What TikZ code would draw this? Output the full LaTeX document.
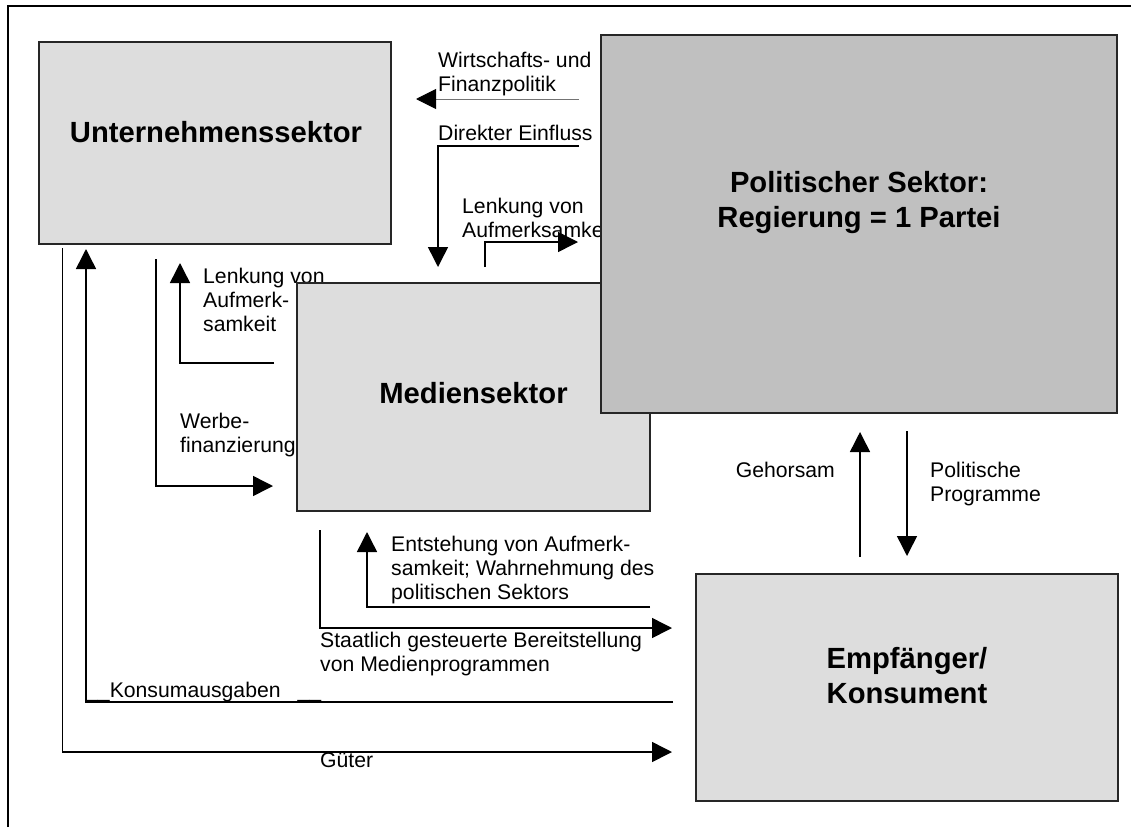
\documentclass[tikz,border=0pt]{standalone}
\usepackage{fontspec}
\setmainfont{Liberation Sans}
\usetikzlibrary{arrows.meta, positioning}

\definecolor{sectorlight}{RGB}{221,221,221}
\definecolor{sectordark}{RGB}{192,192,192}

\begin{document}
\begin{tikzpicture}[
        x=1pt, y=-1pt,
        sector/.style = {rectangle, draw=black!85, fill=sectorlight, line width=2pt, inner sep=0pt},
        sector_dark/.style = {sector, fill=sectordark},
        sector_title/.style = {font=\fontsize{29.2}{35}\selectfont\bfseries, inner sep=0pt, align=center},
        flow_label/.style = {font=\fontsize{21.2}{24.4}\selectfont, inner sep=0pt, align=left, anchor=north west},
        flow/.style = {draw, line width=1.5pt, -{Triangle[length=20pt, width=20pt]}},
        thin_flow/.style = {draw=black!55, line width=1pt, -{Triangle[length=20pt, width=20pt, color=black]}}
    ]

    \useasboundingbox (0,0) rectangle (1131,827);

    % Frame
    \draw [line width=2pt] (7.5,827) -- (7.5,6) -- (1131,6);

    % Labels (drawn first, the sector boxes cover their ends)
    \node [flow_label] (lbl_wf) at (438,51.5) {Wirtschafts- und\\Finanzpolitik};
    \node [flow_label] (lbl_de) at (438,124.5) {Direkter Einfluss};
    \node [flow_label] (lbl_lpol) at (462,197.5) {Lenkung von\\Aufmerksamkeit};
    \node [flow_label] (lbl_lmed) at (203,267.5) {Lenkung von\\Aufmerk-\\samkeit};
    \node [flow_label] (lbl_werbe) at (180,412.5) {Werbe-\\finanzierung};
    \node [flow_label] (lbl_ent) at (391,535.5) {Entstehung von Aufmerk-\\samkeit; Wahrnehmung des\\politischen Sektors};
    \node [flow_label] (lbl_staat) at (320,631.5) {Staatlich gesteuerte Bereitstellung\\von Medienprogrammen};
    \node [flow_label] (lbl_konsum) at (86,681.5) {\_\_Konsumausgaben\hspace{17pt}\_\_};
    \node [flow_label] (lbl_gueter) at (320,752.5) {Güter};
    \node [flow_label, anchor=north east] (lbl_geh) at (835,461.5) {Gehorsam};
    \node [flow_label] (lbl_prog) at (930,461.5) {Politische\\Programme};

    % Sectors
    \node [sector, minimum width=352pt, minimum height=202pt] (unt) at (215,143) {};
    \node [sector, minimum width=353pt, minimum height=228pt] (med) at (473.5,397) {};
    \node [sector_dark, minimum width=516pt, minimum height=378pt] (pol) at (859,224) {};
    \node [sector, minimum width=422pt, minimum height=227pt] (emp) at (907,687.5) {};

    \node [sector_title, anchor=base] (unt_title) at ([xshift=1pt, yshift=1pt]unt.center) {Unternehmenssektor};
    \node [sector_title, anchor=base] (med_title) at ([yshift=-6pt]med.center) {Mediensektor};
    \node [sector_title, anchor=north] (pol_title) at ([yshift=53pt]pol.center) {Politischer Sektor:\\Regierung = 1 Partei};
    \node [sector_title, anchor=north] (emp_title) at ([yshift=40pt]emp.center) {Empfänger/\\Konsument};

    % Connections
    \coordinate (wf_start) at (579,99);
    \coordinate (wf_end) at (416,99);
    \draw [thin_flow] (wf_start) -- (wf_end);

    \coordinate (de_start) at (579,146);
    \coordinate (de_end) at (438,267);
    \draw [flow] (de_start) -| (de_end);

    \coordinate (lpol_start) at (485,267);
    \coordinate (lpol_end) at (578,242);
    \draw [flow] (lpol_start) |- (lpol_end);

    \coordinate (lmed_start) at (274,363);
    \coordinate (lmed_end) at (180,263);
    \draw [flow] (lmed_start) -| (lmed_end);

    \coordinate (werbe_start) at (156,259);
    \coordinate (werbe_end) at (273,486);
    \draw [flow] (werbe_start) |- (werbe_end);

    \coordinate (ent_start) at (650,607);
    \coordinate (ent_end) at (367,532);
    \draw [flow] (ent_start) -| (ent_end);

    \coordinate (staat_start) at (320,530);
    \coordinate (staat_end) at (672,628);
    \draw [flow] (staat_start) |- (staat_end);

    \coordinate (konsum_start) at (673,702);
    \coordinate (konsum_end) at (86,249);
    \draw [flow] (konsum_start) -| (konsum_end);

    \coordinate (gueter_start) at (62.5,248);
    \coordinate (gueter_end) at (672,752);
    \draw [flow] (gueter_start) |- (gueter_end);

    \coordinate (geh_start) at (860,557);
    \coordinate (geh_end) at (860,432);
    \draw [flow] (geh_start) -- (geh_end);

    \coordinate (prog_start) at (907,431);
    \coordinate (prog_end) at (907,556);
    \draw [flow] (prog_start) -- (prog_end);

\end{tikzpicture}
\end{document}
